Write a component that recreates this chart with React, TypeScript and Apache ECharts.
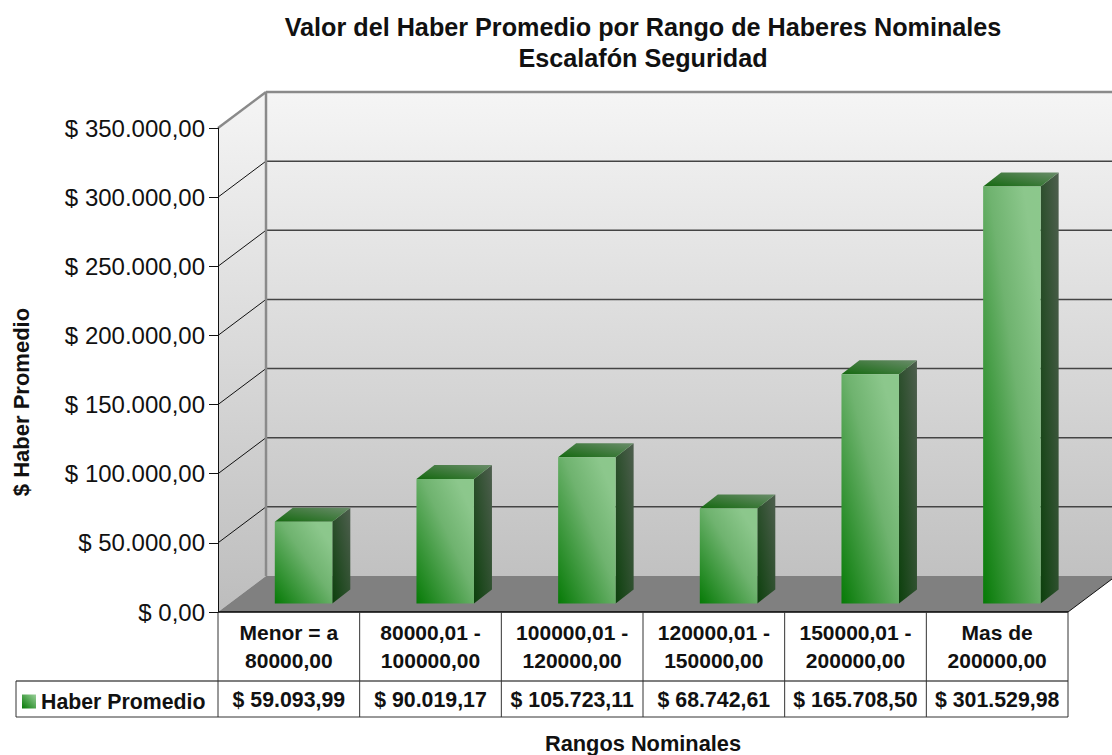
import React, { useEffect, useRef } from "react";
import * as echarts from "echarts";

const titleText = "Valor del Haber Promedio por Rango de Haberes Nominales\nEscalafón Seguridad";
const yAxisName = "$ Haber Promedio";
const xAxisName = "Rangos Nominales";
const seriesName = "Haber Promedio";
const categories = [
  "Menor = a\n80000,00",
  "80000,01 -\n100000,00",
  "100000,01 -\n120000,00",
  "120000,01 -\n150000,00",
  "150000,01 -\n200000,00",
  "Mas de\n200000,00",
];
const values = [59093.99, 90019.17, 105723.11, 68742.61, 165708.5, 301529.98];
const valueLabels = ["$ 59.093,99", "$ 90.019,17", "$ 105.723,11", "$ 68.742,61", "$ 165.708,50", "$ 301.529,98"];
const yTicks = [0, 50000, 100000, 150000, 200000, 250000, 300000, 350000];
const yTickLabels = ["$ 0,00", "$ 50.000,00", "$ 100.000,00", "$ 150.000,00", "$ 200.000,00", "$ 250.000,00", "$ 300.000,00", "$ 350.000,00"];

const FONT = "'Liberation Sans', Arial, sans-serif";
const DX = 48;
const DY = -36;
const BAR_W = 57.5;
const BAR_SHIFT_X = 56.8;
const BAR_LIFT = 8.5;
const SIDE_X = 18;
const SIDE_Y = -14;

const lin = (x: number, y: number, x2: number, y2: number, stops: [number, string][]) =>
  new echarts.graphic.LinearGradient(x, y, x2, y2, stops.map(([offset, color]) => ({ offset, color })));

const frontFill = () => lin(0, 1, 1, 0, [[0, "#067a06"], [0.55, "#6fb36f"], [0.85, "#8cc78c"], [1, "#8cc88c"]]);
const sideFill = () => lin(0, 1, 1, 0, [[0, "#0c400c"], [1, "#4f5f4f"]]);
const topFill = () => lin(0, 1, 1, 0, [[0, "#14690f"], [1, "#6a8c6a"]]);

function renderRoom(params: any, api: any) {
  const { x, y, width, height } = params.coordSys;
  const bottom = y + height;
  const right = x + width;
  const children: any[] = [];
  const wallFill = lin(0, 0, 0, 1, [[0, "#f5f5f5"], [0.45, "#dcdcdc"], [1, "#bdbdbd"]]);
  children.push({
    type: "polygon",
    shape: { points: [[x, y], [x + DX, y + DY], [right + DX, y + DY], [right + DX, bottom + DY], [x + DX, bottom + DY], [x, bottom]] },
    style: { fill: wallFill },
  });
  children.push({
    type: "polygon",
    shape: { points: [[x, bottom], [x + DX, bottom + DY], [right + DX, bottom + DY], [right, bottom]] },
    style: { fill: "#808080" },
  });
  yTicks.forEach((t) => {
    if (t === 0 || t === yTicks[yTicks.length - 1]) return;
    const p = api.coord([0, t]);
    const py = p[1];
    children.push({ type: "polyline", shape: { points: [[x, py], [x + DX, py + DY]] }, style: { stroke: "#111", lineWidth: 1, fill: "none" } });
    children.push({ type: "line", shape: { x1: x + DX, y1: py + DY, x2: right + DX, y2: py + DY }, style: { stroke: "#444", lineWidth: 1.5 } });
  });
  children.push({ type: "line", shape: { x1: x + DX, y1: y + DY, x2: x + DX, y2: bottom + DY }, style: { stroke: "#8a8a8a", lineWidth: 2.5 } });
  children.push({ type: "line", shape: { x1: x + DX, y1: y + DY, x2: right + DX, y2: y + DY }, style: { stroke: "#8a8a8a", lineWidth: 2.5 } });
  children.push({ type: "line", shape: { x1: x, y1: y, x2: x + DX, y2: y + DY }, style: { stroke: "#8a8a8a", lineWidth: 2.5 } });
  children.push({ type: "line", shape: { x1: right, y1: bottom, x2: right + DX, y2: bottom + DY }, style: { stroke: "#111", lineWidth: 1 } });

  // data table under the plot
  const row1 = bottom + 69;
  const row2 = bottom + 105;
  const legendLeft = 16;
  const tableLine = (x1: number, y1: number, x2: number, y2: number, stroke = "#333", lineWidth = 1) =>
    children.push({ type: "line", shape: { x1, y1, x2, y2 }, style: { stroke, lineWidth } });
  tableLine(x, bottom, right, bottom, "#000", 1.5);
  tableLine(legendLeft, row1, right, row1, "#555", 1.5);
  tableLine(legendLeft, row2, right, row2);
  tableLine(legendLeft, row1, legendLeft, row2);
  categories.forEach((_, i) => {
    const cx = x + (width / categories.length) * i;
    tableLine(cx, bottom, cx, row2);
  });
  tableLine(right, bottom, right, row2);
  return { type: "group", children };
}

function renderBar(_params: any, api: any) {
  const idx = api.value(0);
  const base = api.coord([idx, 0]);
  const top = api.coord([idx, api.value(1)]);
  const band = api.size([1, 0])[0];
  const x0 = base[0] - band / 2 + BAR_SHIFT_X;
  const x1 = x0 + BAR_W;
  const yb = base[1] - BAR_LIFT;
  const yt = top[1] - BAR_LIFT;
  return {
    type: "group",
    children: [
      { type: "polygon", shape: { points: [[x1, yt], [x1 + SIDE_X, yt + SIDE_Y], [x1 + SIDE_X, yb + SIDE_Y], [x1, yb]] }, style: { fill: sideFill() } },
      { type: "polygon", shape: { points: [[x0, yt], [x0 + SIDE_X, yt + SIDE_Y], [x1 + SIDE_X, yt + SIDE_Y], [x1, yt]] }, style: { fill: topFill() } },
      { type: "rect", shape: { x: x0, y: yt, width: BAR_W, height: yb - yt }, style: { fill: frontFill() } },
    ],
  };
}

export default function App() {
  const ref = useRef<HTMLDivElement>(null);
  useEffect(() => {
    document.body.style.margin = "0";
    const chart = echarts.init(ref.current!, undefined, { renderer: "svg" });
    chart.setOption({
      animation: false,
      backgroundColor: "#fff",
      textStyle: { fontFamily: FONT },
      title: {
        text: titleText,
        left: 638,
        top: 6,
        textAlign: "center",
        textStyle: { fontFamily: FONT, fontSize: 25.2, fontWeight: "bold", color: "#111", lineHeight: 31 },
      },
      legend: {
        left: 22,
        top: 691,
        padding: 0,
        data: [seriesName],
        icon: "rect",
        itemWidth: 14,
        itemHeight: 14,
        itemGap: 5,
        textStyle: { fontFamily: FONT, fontSize: 21.3, fontWeight: "bold", color: "#111" },
      },
      grid: { left: 218, right: 44, top: 128, bottom: 143, outerBoundsMode: "none" },
      xAxis: [
        {
          type: "category",
          data: categories,
          axisLine: { show: false },
          axisTick: { show: false },
          axisLabel: { interval: 0, margin: 6, fontFamily: FONT, fontSize: 21, fontWeight: "bold", color: "#111", lineHeight: 28 },
        },
        {
          type: "category",
          position: "bottom",
          offset: 69,
          data: valueLabels,
          axisLine: { show: false },
          axisTick: { show: false },
          axisLabel: { interval: 0, margin: 8, fontFamily: FONT, fontSize: 21.3, fontWeight: "bold", color: "#111" },
          name: xAxisName,
          nameLocation: "middle",
          nameGap: 51,
          nameTextStyle: { fontFamily: FONT, fontSize: 21.8, fontWeight: "bold", color: "#111" },
        },
      ],
      yAxis: {
        type: "value",
        min: 0,
        max: 350000,
        interval: 50000,
        z: 5,
        axisLine: { show: true, lineStyle: { color: "#111", width: 1 } },
        axisTick: { show: true, length: 9, lineStyle: { color: "#111", width: 1 } },
        splitLine: { show: false },
        axisLabel: {
          margin: 13,
          fontFamily: FONT,
          fontSize: 24,
          color: "#111",
          formatter: (v: number) => yTickLabels[yTicks.indexOf(v)],
        },
        name: yAxisName,
        nameLocation: "middle",
        nameGap: 186,
        nameTextStyle: { fontFamily: FONT, fontSize: 22, fontWeight: "bold", color: "#111", padding: [0, 64, 0, 0] },
      },
      series: [
        { type: "custom", silent: true, z: 1, xAxisIndex: 0, data: [[0, 0]], renderItem: renderRoom, tooltip: { show: false } },
        {
          type: "custom",
          name: seriesName,
          z: 2,
          xAxisIndex: 0,
          encode: { x: 0, y: 1 },
          data: values.map((v, i) => [i, v]),
          renderItem: renderBar,
          itemStyle: { color: lin(0, 1, 1, 0, [[0, "#067a06"], [1, "#9ad09a"]]) },
        },
      ],
    });
    return () => chart.dispose();
  }, []);
  return <div ref={ref} style={{ position: "fixed", left: 0, top: 0, width: 1112, height: 755 }} />;
}
